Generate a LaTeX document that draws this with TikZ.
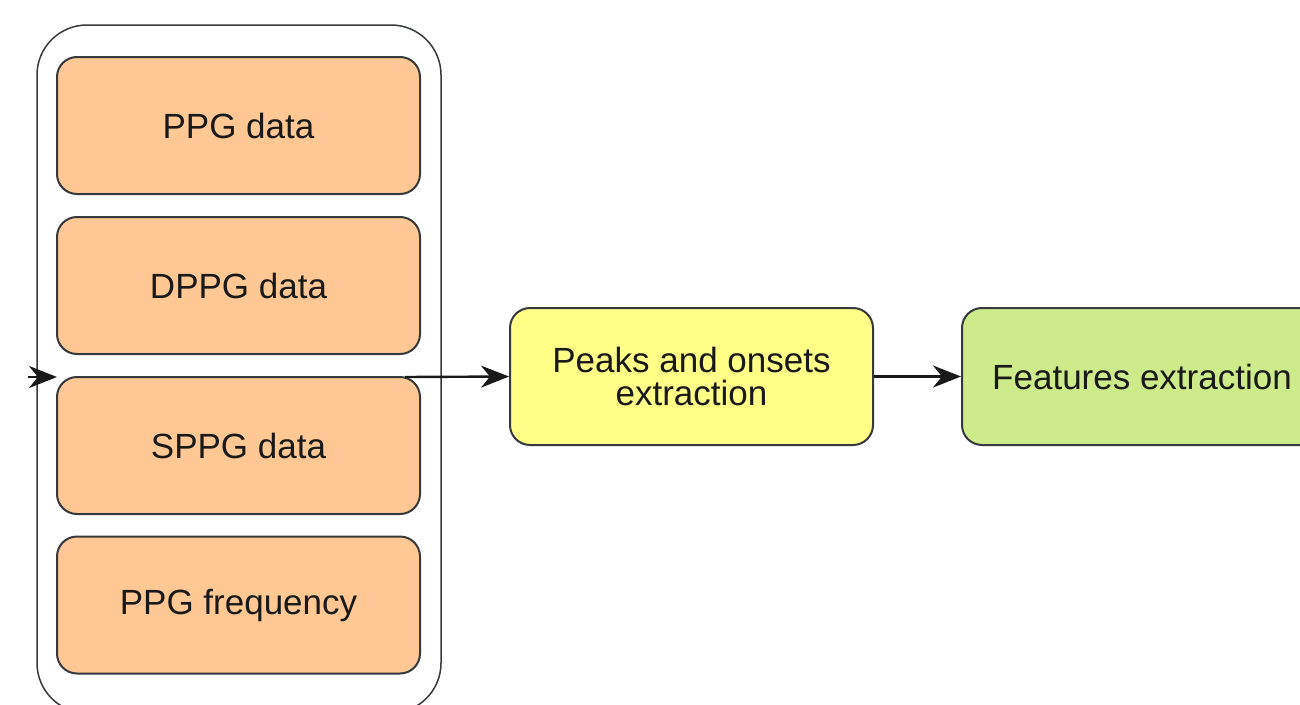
\documentclass[tikz,border=0pt]{standalone}
\usepackage{fontspec}
\setmainfont{Liberation Sans}
\usetikzlibrary{arrows.meta}
\definecolor{orangef}{HTML}{FFC794}
\definecolor{yellowf}{HTML}{FFFF88}
\definecolor{greenf}{HTML}{CDEB8B}
\definecolor{edge}{HTML}{36393D}
\tikzset{
  box/.style={draw=edge, line width=2pt, rounded corners=20pt, minimum width=363pt, minimum height=137pt, align=center, font=\fontsize{35}{33}\selectfont, text=black!90, inner sep=0pt},
  container/.style={draw=edge, line width=1.5pt, rounded corners=50pt, minimum width=404pt, minimum height=688pt, inner sep=0pt},
  conn/.style={line width=2.4pt, draw=black!90, -{Stealth[length=28pt,width=22pt,inset=9pt]}}
}
\begin{document}
\begin{tikzpicture}[x=1pt,y=-1pt]
\useasboundingbox (0,0) rectangle (1300,704);
\node[container] (cont) at (239,369) {};
\node[box, fill=orangef] (ppg) at (238.5,125.5) {PPG data};
\node[box, fill=orangef] (dppg) at (238.5,285.5) {DPPG data};
\node[box, fill=orangef] (sppg) at (238.5,445.5) {SPPG data};
\node[box, fill=orangef] (freq) at (238.5,605) {PPG frequency};
\node[box, fill=yellowf] (peaks) at (691.5,376.5) {Peaks and onsets\\extraction};
\node[box, fill=greenf, minimum width=360pt] (feat) at (1142,376.5) {Features extraction};
\coordinate (inL) at (28,377);
\coordinate (inR) at (57,377);
\coordinate (outL) at (405,377);
\draw[conn] (inL) -- (inR);
\draw[conn] (outL) -- (peaks.west);
\draw[conn] (peaks.east) -- (feat.west);
\end{tikzpicture}
\end{document}
